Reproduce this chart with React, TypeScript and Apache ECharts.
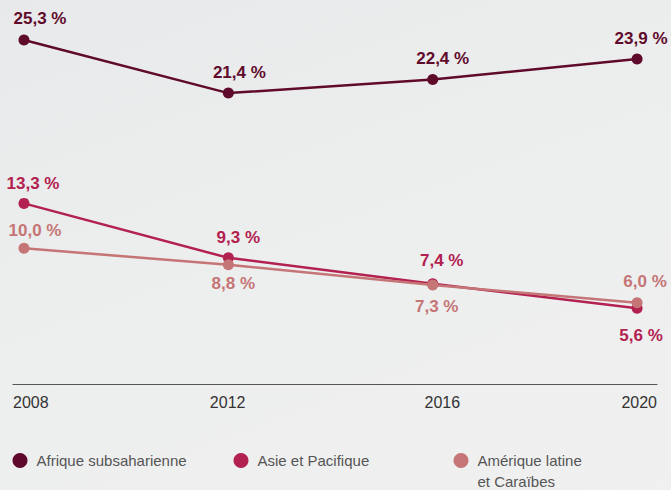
import React, { useEffect, useRef } from "react";
import * as echarts from "echarts";

const years = ["2008", "2012", "2016", "2020"];
const seriesNames = ["Afrique subsaharienne", "Asie et Pacifique", "Amérique latine et Caraïbes"];
const afrique = [25.3, 21.4, 22.4, 23.9];
const asie = [13.3, 9.3, 7.4, 5.6];
const amerique = [10.0, 8.8, 7.3, 6.0];

const colors = ["#600a2b", "#b2214f", "#c57576"];
// label offsets (dx, dy) relative to each point
const labelOffsets = [
  [[16, -21], [11, -21], [10, -21], [4, -21]],
  [[9, -20], [10, -20], [9, -23], [4, 27]],
  [[11, -18], [5, 19], [4, 21], [8, -21]],
];

const fmt = (v: number) => v.toFixed(1).replace(".", ",") + " %";

export default function App() {
  const ref = useRef<HTMLDivElement>(null);
  useEffect(() => {
    document.body.style.margin = "0";
    const chart = echarts.init(ref.current!, undefined, { renderer: "svg" });
    const allValues = [afrique, asie, amerique];
    const series = allValues.map((vals, si) => ({
      name: seriesNames[si],
      type: "line",
      xAxisIndex: 1,
      symbol: "circle",
      symbolSize: 11,
      z: 2 + si,
      itemStyle: { color: colors[si] },
      lineStyle: { color: colors[si], width: 2.5 },
      label: {
        show: true,
        position: "inside",
        align: "center",
        verticalAlign: "middle",
        color: colors[si],
        fontFamily: "Liberation Sans, Arial, sans-serif",
        fontWeight: "bold",
        fontSize: 17,
        formatter: (p: any) => fmt(p.value[1]),
      },
      data: vals.map((v, i) => ({
        value: [Number(years[i]), v],
        label: { offset: labelOffsets[si][i] },
      })),
    }));
    const legendBase = {
      orient: "horizontal",
      icon: "circle",
      itemWidth: 15,
      itemHeight: 15,
      padding: 0,
      top: 453,
      selectedMode: false,
      textStyle: {
        fontFamily: "Liberation Sans, Arial, sans-serif",
        fontSize: 15,
        color: "#555",
        padding: [0, 0, 0, 4],
      },
    };
    chart.setOption({
      animation: false,
      textStyle: { fontFamily: "Liberation Sans, Arial, sans-serif" },
      grid: { left: 13, right: 14, top: 25, bottom: 105.5 },
      xAxis: [
        {
          type: "category",
          data: years,
          boundaryGap: false,
          axisLine: { lineStyle: { color: "#555", width: 1.2 } },
          axisTick: { show: false },
          splitLine: { show: false },
          axisLabel: {
            fontSize: 16,
            color: "#333",
            margin: 10,
            alignMinLabel: "left",
            alignMaxLabel: "right",
          },
        },
        {
          type: "value",
          min: 2007.785,
          max: 2020.39,
          show: false,
          splitLine: { show: false },
        },
      ],
      yAxis: {
        type: "value",
        min: 0,
        max: 26.4,
        show: false,
        splitLine: { show: false },
      },
      legend: [
        { ...legendBase, left: 12.5, data: [seriesNames[0]] },
        { ...legendBase, left: 233.5, data: [seriesNames[1]] },
        {
          ...legendBase,
          left: 453.5,
          top: 429,
          data: [seriesNames[2]],
          formatter: () => "\nAmérique latine\net Caraïbes",
          textStyle: { ...legendBase.textStyle, lineHeight: 21 },
        },
      ],
      series,
    });
    return () => chart.dispose();
  }, []);
  return (
    <div
      ref={ref}
      style={{
        width: 671,
        height: 490,
        background: "linear-gradient(160deg, #e8e9ea 0%, #edeeee 50%, #f0f0f1 100%)",
      }}
    />
  );
}
